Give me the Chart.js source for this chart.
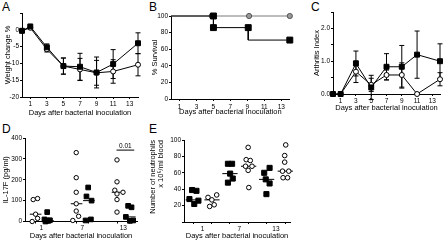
<!DOCTYPE html>
<html>
<head>
<meta charset="utf-8">
<script src="https://cdn.jsdelivr.net/npm/chart.js@4.4.1/dist/chart.umd.min.js"></script>
<style>
body { margin: 0; background: #fff; width: 445px; height: 240px; overflow: hidden; position: relative; font-family: "Liberation Sans", Arial, sans-serif; }
canvas { position: absolute; }
.lbl { position: absolute; font-size: 12px; line-height: 12px; color: #000; }
</style>
</head>
<body>
<div class="lbl" style="left:2px;top:1px">A</div>
<div class="lbl" style="left:149px;top:1px">B</div>
<div class="lbl" style="left:311px;top:1px">C</div>
<div class="lbl" style="left:2px;top:123px">D</div>
<div class="lbl" style="left:149px;top:123px">E</div>
<canvas id="cA" width="145" height="120" style="left:0;top:0"></canvas>
<canvas id="cB" width="150" height="120" style="left:145px;top:0"></canvas>
<canvas id="cC" width="155" height="120" style="left:290px;top:0"></canvas>
<canvas id="cD" width="145" height="120" style="left:0;top:120px"></canvas>
<canvas id="cE" width="150" height="120" style="left:145px;top:120px"></canvas>
<script>
// time course (A, C)
const days = [0, 1, 3, 5, 7, 9, 11, 14];
const dayTicks = [1, 3, 5, 7, 9, 11, 13];
const xTitle = "Days after bacterial inoculation";

// A: weight change %
const weightSq = [-0.3, 1.0, -5.2, -10.8, -11.0, -12.7, -10.2, -4.0];
const weightSqErr = [0, 0, 1.0, 2.4, 4.0, 4.6, 4.3, 3.1];
const weightCirc = [-0.3, 0.6, -5.8, -10.8, -11.8, -12.8, -12.4, -10.4];
const weightCircErr = [0, 0, 0.8, 2.4, 3.3, 3.7, 3.5, 3.3];

// B: % survival
const survCircDays = [0, 4.8, 9.2, 14];
const survCirc = [100, 100, 100, 100];
const survCircMark = [0, 1, 1, 1];
const survSqDays = [0, 5, 5, 9.1, 9.1, 14];
const survSq = [100, 100, 86, 86, 71, 71];
const survSqMark = [0, 1, 1, 1, 0, 1];

// C: arthritis index
const arthSq = [0, 0, 0.93, 0.2, 0.83, 0.83, 1.2, 1.0];
const arthSqErr = [0, 0, 0.38, 0.37, 0.4, 0.65, 0.72, 0.53];
const arthCirc = [0, 0, 0.68, 0.28, 0.58, 0.58, 0, 0.45];
const arthCircErr = [0, 0, 0.33, 0.2, 0.15, 0.37, 0, 0.2];

// D, E: per-animal values on sample days
const sampleDays = [1, 7, 13];

const il17Circ = [[105, 110, 35, 15, 0], [330, 210, 140, 85, 50, 25, 5], [295, 190, 150, 140, 132, 105, 45]];
const il17CircX = [[-0.2, 0.44, 0.15, 0.44, -0.35], [6.1, 6.1, 6.1, 6.1, 6.1, 6.45, 5.6], [12.07, 12.07, 11.75, 12.95, 12.07, 12.07, 12.07]];
const il17Sq = [[45, 10, 5, 3, 6, 0], [163, 120, 100, 5, 10], [75, 68, 22, 3, 5]];
const il17SqX = [[1.85, 1.45, 1.75, 2.0, 2.25, 1.6], [7.85, 7.6, 8.35, 7.47, 8.25], [13.7, 14.2, 13.37, 13.96, 14.44]];
const il17CircMed = [35, 85, 140];
const il17SqMed = [5, 100, 22];
const sigLabel = "0.01";
const sigY = 342;
const sigFrom = 12.0;
const sigTo = 14.6;

const neutSq = [[39, 38, 28, 26, 22], [71, 71, 59, 53, 48], [60, 66, 52, 47, 34]];
const neutSqX = [[-0.73, -0.01, -1.16, 0.31, -0.37], [5.14, 5.82, 5.5, 5.93, 5.14], [11.08, 11.96, 11.33, 11.96, 11.44]];
const neutCirc = [[30, 27, 33, 19, 21], [91, 76, 75, 68, 68, 63, 42], [94, 81, 73, 62, 62, 54, 54]];
const neutCircX = [[1.88, 2.51, 3.3, 2.15, 2.89], [8.45, 8.13, 8.8, 8.02, 9.08, 8.45, 8.56], [14.6, 14.43, 14.43, 14.07, 15.1, 14.17, 14.9]];
const neutSqMed = [27, 59, 52];
const neutCircMed = [27, 68, 62];

const tickFont = { family: "Liberation Sans", size: 6.5 };
const titleFont = { family: "Liberation Sans", size: 7.5, lineHeight: 1 };

function axis(o) {
    return {
        type: "linear",
        min: o.min,
        max: o.max,
        afterBuildTicks: (s) => { s.ticks = o.ticks.map((v) => ({ value: v })); },
        afterFit: (s) => { if (s.isHorizontal()) s.height = o.size; else s.width = o.size; },
        border: { color: "#000", width: 1 },
        grid: { drawOnChartArea: false, tickLength: 2, tickColor: o.tickColor || "#000" },
        ticks: { color: "#000", font: tickFont, padding: o.tickPad ?? 1, autoSkip: false, maxRotation: 0, callback: o.label || ((v) => String(v)) },
        title: { display: true, text: o.title, color: "#000", font: titleFont, padding: o.titlePad, align: o.align || "center" },
    };
}

const errorBars = {
    id: "errorBars",
    beforeDatasetsDraw(chart) {
        const { ctx, scales: { y } } = chart;
        ctx.save();
        ctx.strokeStyle = "#000";
        ctx.lineWidth = 1;
        chart.data.datasets.forEach((ds, i) => {
            if (!ds.errors) return;
            const meta = chart.getDatasetMeta(i);
            meta.data.forEach((pt, j) => {
                const e = ds.errors[j];
                if (!e) return;
                const v = ds.data[j].y;
                const top = y.getPixelForValue(v + e);
                const bot = y.getPixelForValue(v - e);
                ctx.beginPath();
                ctx.moveTo(pt.x, top); ctx.lineTo(pt.x, bot);
                ctx.moveTo(pt.x - 2.5, top); ctx.lineTo(pt.x + 2.5, top);
                ctx.moveTo(pt.x - 2.5, bot); ctx.lineTo(pt.x + 2.5, bot);
                ctx.stroke();
            });
        });
        ctx.restore();
    },
};

const sigText = {
    id: "sigText",
    afterDatasetsDraw(chart) {
        const { ctx, scales: { x, y } } = chart;
        ctx.save();
        ctx.fillStyle = "#000";
        ctx.font = '6.5px "Liberation Sans"';
        ctx.textAlign = "center";
        ctx.textBaseline = "bottom";
        ctx.fillText(sigLabel, x.getPixelForValue((sigFrom + sigTo) / 2), y.getPixelForValue(sigY) - 1);
        ctx.restore();
    },
};

function xy(xs, ys) {
    return xs.map((x, i) => ({ x: x, y: ys[i] }));
}

function groups(xs, ys) {
    return ys.flatMap((g, i) => g.map((v, j) => ({ x: xs[i][j], y: v })));
}

function medians(meds, offset, half) {
    return meds.map((m, i) => ({
        type: "line",
        data: [{ x: sampleDays[i] + offset - half, y: m }, { x: sampleDays[i] + offset + half, y: m }],
        borderColor: "#000",
        borderWidth: 1,
        pointRadius: 0,
        clip: false,
    }));
}

function sqSet(data, r, extra) {
    return Object.assign({
        data: data, borderColor: "#000", borderWidth: 1, pointStyle: "rect", pointRadius: r,
        pointBackgroundColor: "#000", pointBorderColor: "#000", pointBorderWidth: 1, clip: false,
    }, extra);
}

function circSet(data, r, extra) {
    return Object.assign({
        data: data, borderColor: "#000", borderWidth: 1, pointStyle: "circle", pointRadius: r,
        pointBackgroundColor: "#fff", pointBorderColor: "#000", pointBorderWidth: 1, clip: false,
    }, extra);
}

function baseOptions(pad, scales) {
    return {
        responsive: false,
        animation: false,
        devicePixelRatio: 1,
        layout: { padding: pad },
        plugins: { legend: { display: false }, tooltip: { enabled: false } },
        scales: scales,
    };
}

// A
new Chart(document.getElementById("cA"), {
    type: "line",
    data: {
        datasets: [
            sqSet(xy(days, weightSq), 3.5, { errors: weightSqErr }),
            circSet(xy(days, weightCirc), 2.5, { errors: weightCircErr }),
        ],
    },
    options: baseOptions({ left: 0, top: 13, right: 7, bottom: 0 }, {
        x: axis({ min: 0, max: 14, ticks: dayTicks, size: 23, title: xTitle, titlePad: { bottom: 3 } }),
        y: axis({ min: -20, max: 5, ticks: [-20, -15, -10, -5, 0, 5], size: 22, title: "Weight change %", titlePad: { top: 4 },
            label: (v) => (v === 5 ? "" : String(v)) }),
    }),
    plugins: [errorBars],
});

// B
new Chart(document.getElementById("cB"), {
    type: "line",
    data: {
        datasets: [
            sqSet(xy(survSqDays, survSq), 4.2, { pointRadius: survSqMark.map((m) => m * 4.2) }),
            circSet(xy(survCircDays, survCirc), 2.6, {
                borderColor: "#7a7a7a", pointBackgroundColor: "#999", pointBorderColor: "#555",
                pointRadius: survCircMark.map((m) => m * 2.6),
            }),
        ],
    },
    options: baseOptions({ left: 0, top: 16, right: 5, bottom: 0 }, {
        x: axis({ min: 0, max: 14, ticks: dayTicks, size: 21, tickPad: 2, title: xTitle, titlePad: { bottom: 4 } }),
        y: axis({ min: 0, max: 100, ticks: [0, 20, 40, 60, 80, 100], size: 26, title: "% Survival", titlePad: { top: 6 } }),
    }),
});

// C
new Chart(document.getElementById("cC"), {
    type: "line",
    data: {
        datasets: [
            sqSet(xy(days, arthSq), 3.5, { errors: arthSqErr }),
            circSet(xy(days, arthCirc), 2.5, { errors: arthCircErr }),
        ],
    },
    options: baseOptions({ left: 0, top: 12, right: 2, bottom: 0 }, {
        x: axis({ min: 0, max: 14, ticks: dayTicks, size: 26, title: xTitle, titlePad: { bottom: 8 } }),
        y: axis({ min: 0, max: 2.5, ticks: [0, 0.5, 1, 1.5, 2, 2.5], size: 43, title: "Arthritis Index", titlePad: { top: 23 },
            label: (v) => (Number.isInteger(v) ? v.toFixed(1) : "") }),
    }),
    plugins: [errorBars],
});

const groupTick = (ctx) => (sampleDays.includes(ctx.tick.value) ? "rgba(0,0,0,0)" : "#000");
const dayLabel = (v) => (sampleDays.includes(v) ? String(v) : "");

// D
const dOff = 0.85;
new Chart(document.getElementById("cD"), {
    type: "scatter",
    data: {
        datasets: [
            circSet(groups(il17CircX, il17Circ), 2.2, { showLine: false }),
            sqSet(groups(il17SqX, il17Sq), 3.3, { showLine: false }),
            ...medians(il17CircMed, -dOff, 0.85),
            ...medians(il17SqMed, dOff + 0.1, 0.85),
            { type: "line", data: [{ x: sigFrom, y: sigY }, { x: sigTo, y: sigY }], borderColor: "#000", borderWidth: 1, pointRadius: 0, clip: false },
        ],
    },
    options: baseOptions({ left: 0, top: 18, right: 8, bottom: 0 }, {
        x: axis({ min: -1.4, max: 15, ticks: sampleDays.flatMap((d) => [d - dOff, d, d + dOff]), size: 18.5, tickPad: 1.3,
            tickColor: groupTick, label: dayLabel, title: xTitle, titlePad: { bottom: 0 } }),
        y: axis({ min: 0, max: 400, ticks: [0, 100, 200, 300, 400], size: 25, title: "IL-17F (pg/ml)", titlePad: { top: 2.5 } }),
    }),
    plugins: [sigText],
});

// E
const eOff = 1.53;
new Chart(document.getElementById("cE"), {
    type: "scatter",
    data: {
        datasets: [
            sqSet(groups(neutSqX, neutSq), 3.6, { showLine: false }),
            circSet(groups(neutCircX, neutCirc), 2.3, { showLine: false }),
            ...medians(neutSqMed, -eOff, 1.25),
            ...medians(neutCircMed, eOff, 1.25),
        ],
    },
    options: baseOptions({ left: 0, top: 20, right: 0.5, bottom: 0 }, {
        x: axis({ min: -2.05, max: 15.3, ticks: sampleDays.flatMap((d) => [d - eOff, d, d + eOff]), size: 18, tickPad: 1.5,
            tickColor: groupTick, label: dayLabel, title: xTitle, titlePad: { bottom: 0 } }),
        y: axis({ min: 0, max: 100, ticks: [0, 20, 40, 60, 80, 100], size: 39, title: ["Number of neutrophils", "x 10\u2075/ml blood"],
            titlePad: { top: 4.5 }, align: "end", label: (v) => (v === 0 ? "" : String(v)) }),
    }),
});
</script>
</body>
</html>
